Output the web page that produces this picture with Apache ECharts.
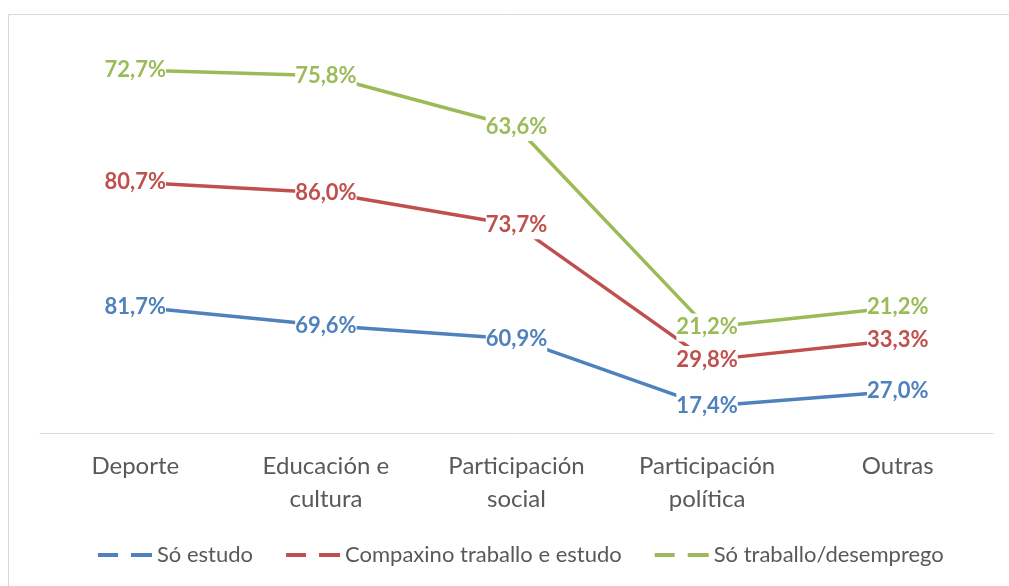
<!DOCTYPE html>
<html><head><meta charset="utf-8">
<script src="https://cdn.jsdelivr.net/npm/echarts@6/dist/echarts.min.js"></script>
<style>html,body{margin:0;padding:0;background:#fff}#c{width:1009px;height:586px}</style>
</head><body><div id="c"></div>
<script>
const categories = ['Deporte', 'Educación e\ncultura', 'Participación\nsocial', 'Participación\npolítica', 'Outras'];
const soEstudo = [81.7, 69.6, 60.9, 17.4, 27.0];
const compaxino = [80.7, 86.0, 73.7, 29.8, 33.3];
const soTraballo = [72.7, 75.8, 63.6, 21.2, 21.2];
const seriesNames = ['Só estudo', 'Compaxino traballo e estudo', 'Só traballo/desemprego'];
const colors = ['#4F81BD', '#C0504D', '#9BBB59'];

const font = 'Lato, "Open Sans", sans-serif';
function mk(name, data, color) {
  return {
    name, type: 'line', stack: 'total', data,
    symbol: 'circle', symbolSize: 0, showSymbol: true, smooth: false,
    lineStyle: { color, width: 3.5 },
    itemStyle: { color },
    label: {
      show: true, position: 'inside', color, fontFamily: font, fontWeight: 'bold', fontSize: 22,
      backgroundColor: '#fff', padding: [3, 0],
      formatter: p => p.value.toFixed(1).replace('.', ',') + '%'
    },
    labelLayout: { hideOverlap: false }
  };
}
const chart = echarts.init(document.getElementById('c'), null, { renderer: 'canvas' });
chart.setOption({
  animation: false,
  backgroundColor: '#fff',
  graphic: [{ type: 'rect', shape: { x: 8.5, y: 14.5, width: 1010, height: 600 }, style: { fill: 'none', stroke: '#d9d9d9', lineWidth: 1 }, silent: true, z: -10 }],
  grid: { left: 40, right: 16, top: 47, bottom: 153 },
  xAxis: {
    type: 'category', data: categories, boundaryGap: true,
    axisLine: { lineStyle: { color: '#d9d9d9', width: 1 } },
    axisTick: { show: false },
    axisLabel: { color: '#595959', fontFamily: font, fontSize: 24, lineHeight: 33, margin: 17, interval: 0 }
  },
  yAxis: { type: 'value', min: 0, max: 250, show: false, splitLine: { show: false } },
  legend: {
    left: 93, top: 539, itemGap: 33, itemWidth: 54, itemHeight: 4,
    icon: 'path://M0,0H20V4H0Z M33,0H54V4H33Z',
    textStyle: { color: '#595959', fontFamily: font, fontSize: 22 },
    data: seriesNames
  },
  series: [
    mk(seriesNames[0], soEstudo, colors[0]),
    mk(seriesNames[1], compaxino, colors[1]),
    mk(seriesNames[2], soTraballo, colors[2])
  ]
});
</script></body></html>
